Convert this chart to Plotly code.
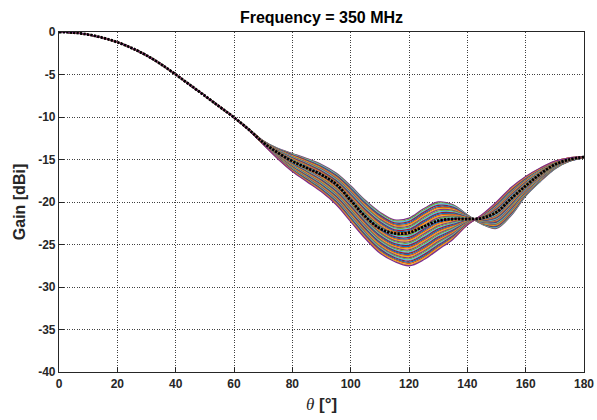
import numpy as np
import plotly.graph_objects as go

# theta grid (degrees)
theta = [0, 5, 10, 15, 20, 25, 30, 35, 40, 45, 50, 55, 60, 65, 70, 75, 80, 85, 90, 95,
         100, 105, 110, 115, 120, 125, 130, 135, 140, 145, 150, 155, 160, 165, 170, 175, 180]

# extreme member A (upper edge before ~143 deg, lower edge after)
gain_edge_a = [0, -0.07, -0.3, -0.68, -1.2, -1.9, -2.75, -3.8, -5.0, -6.25, -7.5, -8.78, -10.05,
               -11.4, -12.8, -13.7, -14.3, -14.9, -15.6, -16.6, -18.1, -19.8, -21.2, -22.1,
               -21.9, -20.8, -20.0, -20.3, -21.5, -22.6, -23.1, -21.6, -19.3, -17.6, -16.1,
               -15.2, -14.8]

# extreme member B (lower edge before ~143 deg, upper edge after)
gain_edge_b = [0, -0.07, -0.3, -0.68, -1.2, -1.9, -2.75, -3.8, -5.0, -6.25, -7.5, -8.78, -10.05,
               -11.5, -13.2, -14.9, -16.4, -17.6, -18.8, -20.3, -22.3, -24.3, -26.0, -27.0,
               -27.5, -26.8, -25.6, -24.4, -22.7, -21.5, -20.0, -18.3, -17.0, -16.0, -15.2,
               -14.8, -14.7]

# black dotted reference curve
gain_ref = [0, -0.07, -0.3, -0.68, -1.2, -1.9, -2.75, -3.8, -5.0, -6.25, -7.5, -8.78, -10.05,
            -11.45, -13.0, -14.2, -15.2, -16.0, -16.8, -17.9, -19.8, -21.7, -23.1, -23.7,
            -23.6, -22.9, -22.2, -22.0, -22.0, -21.9, -21.2, -19.6, -18.1, -16.7, -15.6,
            -15.0, -14.7]

n_members = 43
member_weights = np.linspace(0.0, 1.0, n_members)

matlab_colors = ['#0072BD', '#D95319', '#EDB120', '#7E2F8E', '#77AC30', '#4DBEEE', '#A2142F']

x_ticks = list(range(0, 181, 20))
x_tick_labels = [str(v) for v in x_ticks]
y_ticks = list(range(-40, 1, 5))
y_tick_labels = [str(v) for v in y_ticks]

fig = go.Figure()
a = np.array(gain_edge_a)
b = np.array(gain_edge_b)
for i, w in enumerate(member_weights):
    y = (1 - w) * a + w * b
    fig.add_trace(go.Scatter(
        x=theta, y=y, mode='lines',
        line=dict(color=matlab_colors[(i + 3) % 7], width=1.3, shape='spline', smoothing=1.0),
        showlegend=False, hoverinfo='skip'))

fig.add_trace(go.Scatter(
    x=theta, y=gain_ref, mode='lines',
    line=dict(color='black', width=2.8, dash='2.3px,1.2px', shape='spline', smoothing=1.0),
    showlegend=False, hoverinfo='skip'))

axis_common = dict(
    showline=True, linecolor='#262626', linewidth=1.2, mirror=True,
    ticks='inside', ticklen=5, tickcolor='#262626',
    showgrid=True, gridcolor='#404040', gridwidth=1, griddash='1px,1.5px',
    zeroline=False, automargin=False,
    tickfont=dict(family='Liberation Sans, Arial', size=12, color='#262626'),
)

fig.update_xaxes(range=[0, 180], tickvals=x_ticks,
                 ticktext=['<b>%s</b>' % t for t in x_tick_labels], **axis_common,
                 title=dict(text='<span style="font-family:\'Liberation Serif\'"><i>θ</i></span> <b>[°]</b>',
                            font=dict(family='Liberation Sans, Arial', size=17, color='#262626'),
                            standoff=8))
fig.update_yaxes(range=[-40, 0], tickvals=y_ticks,
                 ticktext=['<b>%s</b>' % t for t in y_tick_labels], **axis_common,
                 title=dict(text='<b>Gain [dBi]</b>',
                            font=dict(family='Liberation Sans, Arial', size=16, color='#262626'),
                            standoff=8))

fig.update_layout(
    width=597, height=420,
    margin=dict(l=59, r=13, t=32, b=48),
    paper_bgcolor='white', plot_bgcolor='white',
    title=dict(text='<b>Frequency = 350 MHz</b>', x=0.5, xref='paper', y=1, yref='paper',
               yanchor='bottom', pad=dict(b=9),
               font=dict(family='Liberation Sans, Arial', size=16, color='black')),
)

fig.write_html("out.html")
